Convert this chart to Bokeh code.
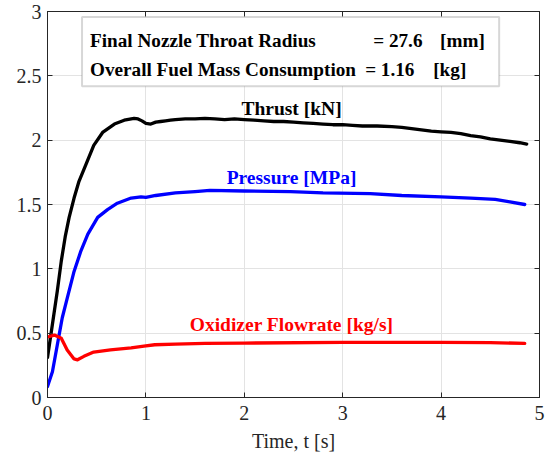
from bokeh.plotting import figure
from bokeh.models import LinearAxis, Range1d, BoxAnnotation, Label, FixedTicker, CustomJSTickFormatter
from bokeh.embed import file_html
from bokeh.resources import INLINE

# ---- data ----
thrust_t = [0.0, 0.05, 0.10, 0.14, 0.18, 0.22, 0.27, 0.32, 0.39, 0.47, 0.56, 0.68, 0.78, 0.88,
            0.92, 0.96, 1.00, 1.05, 1.10, 1.15, 1.20, 1.25, 1.30, 1.40, 1.50, 1.60, 1.70, 1.80,
            1.90, 2.00, 2.10, 2.20, 2.30, 2.40, 2.50, 2.60, 2.70, 2.80, 2.90, 3.00, 3.10, 3.20,
            3.35, 3.50, 3.60, 3.70, 3.80, 3.90, 4.00, 4.10, 4.20, 4.30, 4.40, 4.50, 4.60, 4.70,
            4.80, 4.87]
thrust_v = [0.31, 0.57, 0.83, 1.06, 1.25, 1.40, 1.55, 1.68, 1.81, 1.96, 2.06, 2.125, 2.155, 2.17,
            2.165, 2.15, 2.13, 2.125, 2.14, 2.145, 2.15, 2.155, 2.16, 2.165, 2.165, 2.17, 2.165, 2.16,
            2.165, 2.16, 2.155, 2.15, 2.145, 2.145, 2.14, 2.135, 2.13, 2.125, 2.12, 2.12, 2.115, 2.11,
            2.11, 2.105, 2.10, 2.09, 2.08, 2.07, 2.065, 2.06, 2.05, 2.035, 2.025, 2.01, 2.00, 1.99,
            1.98, 1.97]

pressure_t = [0.0, 0.05, 0.10, 0.15, 0.20, 0.27, 0.34, 0.41, 0.51, 0.61, 0.71, 0.85, 0.95, 1.00,
              1.10, 1.30, 1.50, 1.65, 2.00, 2.47, 2.80, 3.28, 3.60, 4.00, 4.30, 4.55, 4.70, 4.85]
pressure_v = [0.086, 0.20, 0.41, 0.62, 0.77, 0.98, 1.14, 1.27, 1.40, 1.46, 1.51, 1.55, 1.56, 1.555,
              1.57, 1.59, 1.60, 1.61, 1.605, 1.60, 1.59, 1.585, 1.57, 1.56, 1.55, 1.54, 1.52, 1.50]

oxid_t = [0.0, 0.07, 0.14, 0.20, 0.27, 0.305, 0.37, 0.47, 0.64, 0.85, 0.98, 1.09, 1.30, 1.60,
          2.00, 3.00, 4.00, 4.50, 4.85]
oxid_v = [0.47, 0.485, 0.46, 0.37, 0.30, 0.293, 0.32, 0.353, 0.37, 0.385, 0.40, 0.41, 0.415, 0.42,
          0.423, 0.428, 0.428, 0.427, 0.42]

curve_names = ["Thrust [kN]", "Pressure [MPa]", "Oxidizer Flowrate [kg/s]"]
curve_colors = ["black", "#0000ff", "#ff0000"]
curve_label_x = [2.48, 2.48, 2.48]
curve_label_y = [2.245, 1.71, 0.565]

x_ticks = [0, 1, 2, 3, 4, 5]
x_tick_labels = ["0", "1", "2", "3", "4", "5"]
y_ticks = [0, 0.5, 1, 1.5, 2, 2.5, 3]
y_tick_labels = ["0", "0.5", "1", "1.5", "2", "2.5", "3"]

info_names = ["Final Nozzle Throat Radius", "Overall Fuel Mass Consumption"]
info_values = ["= 27.6", "= 1.16"]
info_units = ["[mm]", "[kg]"]

FONT = "Liberation Serif"
AX = "#262626"

p = figure(width=547, height=459, x_range=Range1d(0, 5), y_range=Range1d(0, 3),
           output_backend="svg", toolbar_location=None,
           min_border_left=47, min_border_right=8, min_border_top=11, min_border_bottom=62)
p.outline_line_color = AX
p.background_fill_color = "white"
p.border_fill_color = "white"

xt = FixedTicker(ticks=x_ticks)
yt = FixedTicker(ticks=y_ticks)

fmt_code = "const i = t.indexOf(tick); return i >= 0 ? l[i] : String(tick);"
p.xaxis.ticker = xt
p.yaxis.ticker = yt
p.xaxis.formatter = CustomJSTickFormatter(args=dict(t=x_ticks, l=x_tick_labels), code=fmt_code)
p.yaxis.formatter = CustomJSTickFormatter(args=dict(t=y_ticks, l=y_tick_labels), code=fmt_code)

for ax in [p.xaxis[0], p.yaxis[0]]:
    ax.axis_line_color = AX
    ax.major_tick_line_color = AX
    ax.major_tick_in = 5
    ax.major_tick_out = 0
    ax.minor_tick_line_color = None
    ax.major_label_text_font = FONT
    ax.major_label_text_font_size = "20px"
    ax.major_label_text_color = AX
p.xaxis.major_label_standoff = 8
p.yaxis.major_label_standoff = 6

p.xaxis.axis_label = "Time, t [s]"
p.xaxis.axis_label_text_font = FONT
p.xaxis.axis_label_text_font_size = "20px"
p.xaxis.axis_label_text_font_style = "normal"
p.xaxis.axis_label_text_color = AX
p.xaxis.axis_label_standoff = 7

top_axis = LinearAxis(ticker=xt, major_label_text_color=None, major_label_text_font_size="1px",
                      major_label_standoff=0, major_tick_in=5, major_tick_out=0,
                      minor_tick_line_color=None, axis_line_color=AX, major_tick_line_color=AX)
right_axis = LinearAxis(ticker=yt, major_label_text_color=None, major_label_text_font_size="1px",
                        major_label_standoff=0, major_tick_in=5, major_tick_out=0,
                        minor_tick_line_color=None, axis_line_color=AX, major_tick_line_color=AX)
p.add_layout(top_axis, "above")
p.add_layout(right_axis, "right")

p.xgrid.ticker = xt
p.ygrid.ticker = yt
p.xgrid.grid_line_color = "#e3e3e3"
p.ygrid.grid_line_color = "#e3e3e3"

series = [(thrust_t, thrust_v), (pressure_t, pressure_v), (oxid_t, oxid_v)]
for (tx, vy), col in zip(series, curve_colors):
    p.line(tx, vy, line_color=col, line_width=3.3, line_join="round", line_cap="round")

for name, col, lx, ly in zip(curve_names, curve_colors, curve_label_x, curve_label_y):
    p.add_layout(Label(x=lx, y=ly, text=name, text_color=col, text_font=FONT,
                       text_font_size="19.5px", text_font_style="bold",
                       text_align="center", text_baseline="alphabetic"))

# info text box
p.add_layout(BoxAnnotation(left=0.351, right=4.59, bottom=2.42, top=2.957,
                           fill_color="white", fill_alpha=1.0,
                           line_color="#7a7a7a", line_width=2))
row_y = [2.776, 2.55]
name_x = [0.432, 0.432]
val_x = [3.31, 3.228]
unit_x = [3.99, 3.92]
for i in range(2):
    for txt, xx in [(info_names[i], name_x[i]), (info_values[i], val_x[i]), (info_units[i], unit_x[i])]:
        p.add_layout(Label(x=xx, y=row_y[i], text=txt, text_color="black", text_font=FONT,
                           text_font_size="19.2px", text_font_style="bold",
                           text_align="left", text_baseline="alphabetic"))

open("out.html", "w").write(file_html(p, INLINE))
